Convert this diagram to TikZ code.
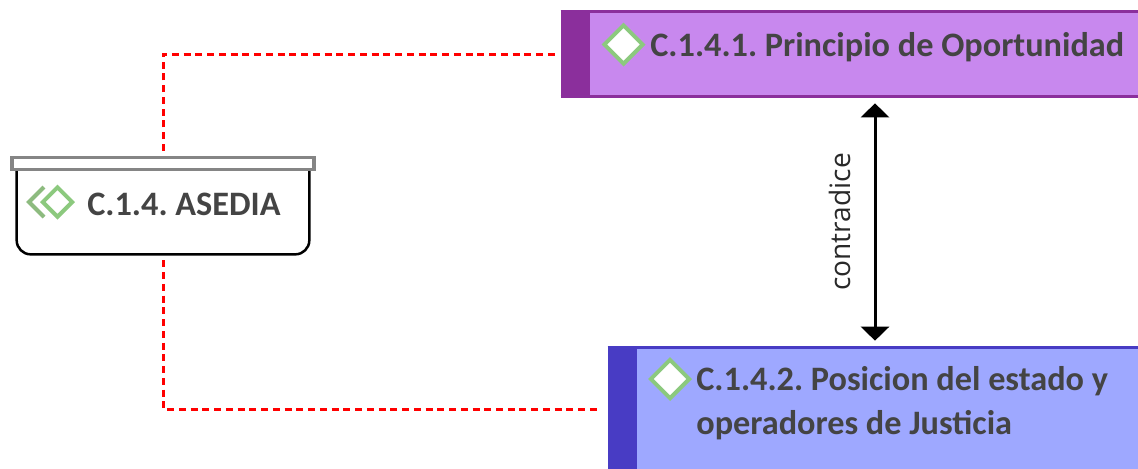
\documentclass[tikz,border=0pt]{standalone}
\usepackage{fontspec}
\setmainfont{Open Sans}
\newfontfamily\titlefont{Carlito}
\frenchspacing
\usetikzlibrary{shapes.geometric, arrows.meta, positioning}
\definecolor{opormain}{HTML}{C888EE}
\definecolor{oporstrip}{HTML}{8B2F9C}
\definecolor{posimain}{HTML}{9EA8FF}
\definecolor{posistrip}{HTML}{483CC4}
\definecolor{icongreen}{HTML}{8CC97E}
\definecolor{icondark}{HTML}{8DBB7F}
\definecolor{textgray}{HTML}{444444}
\definecolor{bargray}{HTML}{858585}
\tikzstyle{topicbox} = [rectangle, minimum height=1.68cm, inner sep=0pt]
\tikzstyle{icon}     = [diamond, draw=icongreen, fill=white, line width=0.08cm, inner sep=0pt, minimum width=0.8cm, minimum height=0.8cm]
\tikzstyle{title}    = [font=\titlefont\bfseries\fontsize{19.5}{25}\selectfont, text=textgray, align=left, inner sep=0pt]
\tikzstyle{link}     = [red, line width=0.06cm, dash pattern=on 0.14cm off 0.095cm]
\tikzstyle{arrow}    = [{Triangle[length=0.28cm,width=0.56cm]}-{Triangle[length=0.28cm,width=0.56cm]}, line width=0.06cm, shorten <=0.14cm, shorten >=0.14cm]

\begin{document}
\begin{tikzpicture}[x=0.02cm, y=-0.02cm, node distance=0cm]
    \useasboundingbox (0,0) rectangle (1138,468);

    \node (opor) [topicbox, fill=opormain, minimum width=12.56cm] at (875,54) {};
    \node (posi) [topicbox, fill=posimain, minimum width=10.68cm, minimum height=2.44cm] at (875,409) {};
    \fill [oporstrip] (opor.north west) rectangle ([xshift=0.58cm]opor.south west);
    \fill [posistrip] (posi.north west) rectangle ([xshift=0.58cm]posi.south west);
    \draw [oporstrip, line width=0.05cm] (opor.north west) -- (opor.north east);
    \draw [oporstrip, line width=0.05cm] (opor.south west) -- (opor.south east);
    \draw [posistrip, line width=0.05cm] (posi.north west) -- (posi.north east);

    \node (asedia) [minimum width=5.84cm, minimum height=1.78cm, inner sep=0pt] at (163,209.5) {};
    \draw [black, line width=0.05cm, rounded corners=0.28cm] (asedia.north west) -- (asedia.south west) -- (asedia.south east) -- (asedia.north east);
    \node (lid) [draw=bargray, fill=white, line width=0.07cm, minimum width=6.04cm, minimum height=0.24cm, inner sep=0pt] at (163,163.5) {};

    \node (iconopor) [icon] at (623.5,44.5) {};
    \node (iconposi) [icon] at (670,379) {};
    \node (iconasedia) [icon, minimum width=0.62cm, minimum height=0.62cm] at (57.5,202) {};
    \draw [icondark, line width=0.08cm] (44,187) -- (29,202) -- (44,217);

    \node (txtopor) [title, anchor=west] at (650,47) {C.1.4.1. Principio de Oportunidad};
    \node (txtposi) [title, anchor=north west] at (696,366) {C.1.4.2. Posicion del estado y\\operadores de Justicia};
    \node (txtasedia) [title, anchor=west] at (87,204) {C.1.4. ASEDIA};

    \draw [link, shorten <=0.1cm, shorten >=0.08cm] (lid.north) |- (opor.west);
    \draw [link, shorten <=0.12cm, shorten >=0.12cm] (asedia.south) |- (posi.west);

    \draw [arrow] (opor.south) -- node[midway, rotate=90, anchor=south, yshift=0.46cm, font=\fontsize{16}{18}\selectfont, text=textgray!60!black, inner sep=0pt] (contra) {contradice} (posi.north);
\end{tikzpicture}
\end{document}
